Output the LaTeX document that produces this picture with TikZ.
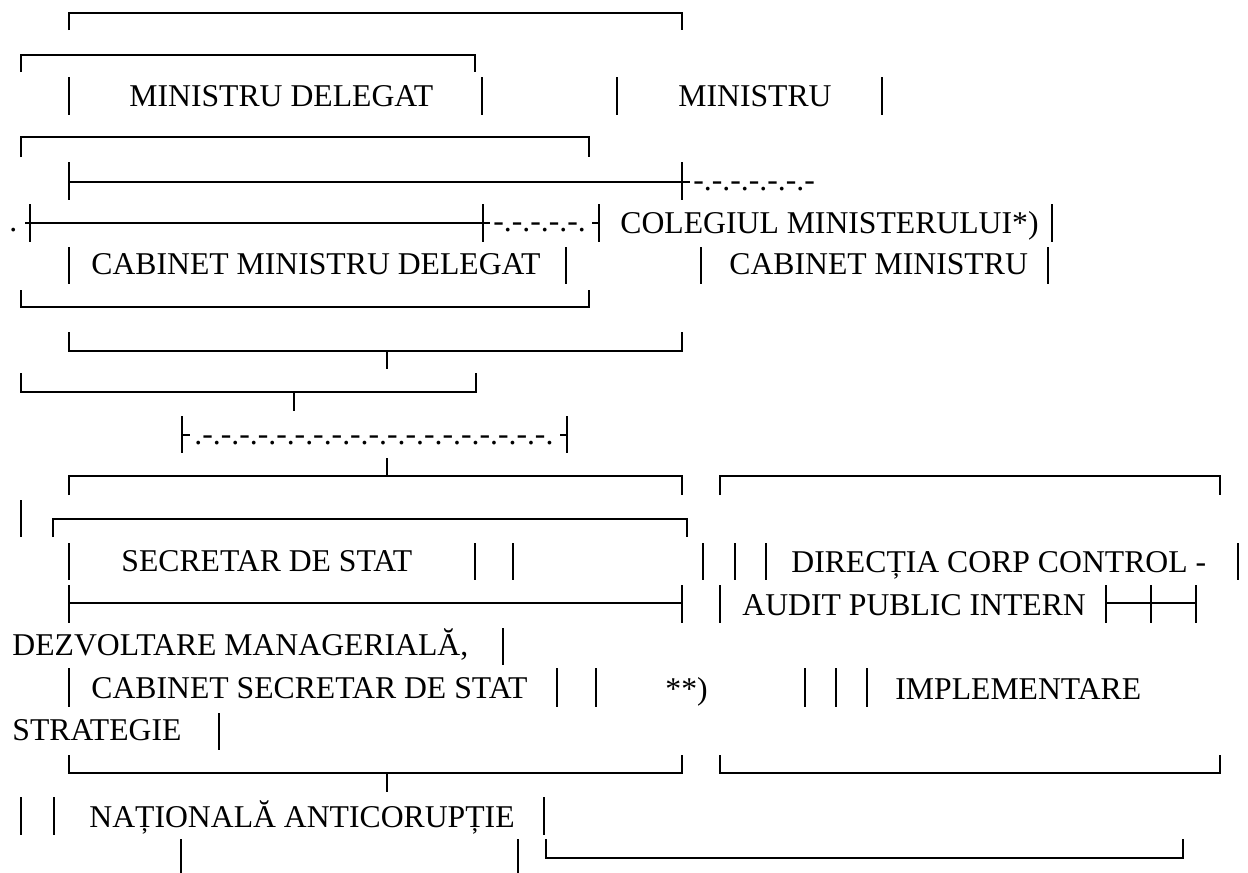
\documentclass[tikz,border=0pt]{standalone}
\usepackage{fontspec}
\setmainfont{Liberation Serif}
\usetikzlibrary{positioning}

\begin{document}
\begin{tikzpicture}[x=0.5pt,y=-0.5pt,
  boxline/.style={line width=1.2pt},
  barline/.style={line width=1pt},
  txt/.style={anchor=base west,inner sep=0pt,font=\fontsize{15.85}{19}\selectfont}]
\useasboundingbox (0,0) rectangle (1248,873);

% ministri
\draw[boxline] (69,30)--(69,13)--(682,13)--(682,30);
\draw[boxline] (21,72)--(21,55)--(475,55)--(475,72);
\node[txt] (minDel) at (129,106) {MINISTRU DELEGAT};
\node[txt] (min) at (678,106) {MINISTRU};
\foreach \x in {69,482,617,882} \draw[barline] (\x,77)--(\x,115);
\draw[boxline] (21,157)--(21,137)--(589,137)--(589,157);

% linii colegiu
\draw[boxline] (69,162)--(69,200);
\draw[boxline] (682,162)--(682,200);
\draw[boxline] (69,182)--(690,182);
\node[txt] (dashA) at (693,190) {-.-.-.-.-.-.-};
\node[txt] (dotE) at (9,231) {.};
\draw[boxline] (25,223)--(490,223);
\foreach \x in {30,483,599} \draw[boxline] (\x,204)--(\x,242);
\draw[boxline] (592,223)--(599,223);
\node[txt] (dashB) at (493,231) {-.-.-.-.-.};
\node[txt] (coleg) at (620,233) {COLEGIUL MINISTERULUI*)};
\draw[barline] (1052,204)--(1052,242);

% cabinete
\node[txt] (cabDel) at (91,274) {CABINET MINISTRU DELEGAT};
\node[txt] (cabMin) at (729,274) {CABINET MINISTRU};
\foreach \x in {69,566,701,1048} \draw[barline] (\x,247)--(\x,284);
\draw[boxline] (21,290)--(21,307)--(589,307)--(589,290);

\draw[boxline] (69,332)--(69,351)--(682,351)--(682,332);
\draw[boxline] (387,351)--(387,369);
\draw[boxline] (21,373)--(21,392)--(476,392)--(476,373);
\draw[boxline] (294,392)--(294,411);

% legatura punctata
\draw[boxline] (182,416)--(182,453);
\draw[boxline] (182,435)--(190,435);
\node[txt] (dashC) at (194,444) {.-.-.-.-.-.-.-.-.-.-.-.-.-.-.-.-.-.-.-.};
\draw[boxline] (567,416)--(567,453);
\draw[boxline] (560,435)--(567,435);

% secretar de stat
\draw[boxline] (387,458)--(387,476);
\draw[boxline] (69,495)--(69,476)--(682,476)--(682,495);
\draw[boxline] (720,495)--(720,476)--(1220,476)--(1220,495);
\draw[barline] (21,500)--(21,537);
\draw[boxline] (53,537)--(53,519)--(687,519)--(687,537);
\node[txt] (secStat) at (121,571) {SECRETAR DE STAT};
\node[txt] (dirCorp) at (791,572) {DIRECȚIA CORP CONTROL -};
\foreach \x in {69,475,513,703,735,766,1238} \draw[barline] (\x,543)--(\x,580);
\foreach \x in {69,682,1106,1151,1196} \draw[boxline] (\x,585)--(\x,623);
\draw[barline] (720,585)--(720,623);
\draw[boxline] (69,603)--(682,603);
\draw[boxline] (1106,603)--(1196,603);
\node[txt] (audit) at (742,615) {AUDIT PUBLIC INTERN};

\node[txt] (dezv) at (12,655) {DEZVOLTARE MANAGERIALĂ,};
\draw[barline] (503,628)--(503,665);
\node[txt] (cabSec) at (91,698) {CABINET SECRETAR DE STAT};
\node[txt] (nota) at (665,699) {**)};
\node[txt] (impl) at (895,699) {IMPLEMENTARE};
\foreach \x in {69,557,596,805,836,867} \draw[barline] (\x,668)--(\x,707);
\node[txt] (strat) at (12,740) {STRATEGIE};
\draw[barline] (219,713)--(219,750);
\draw[boxline] (69,755)--(69,773)--(682,773)--(682,755);
\draw[boxline] (387,773)--(387,792);
\draw[boxline] (720,755)--(720,773)--(1220,773)--(1220,755);

% anticoruptie
\node[txt] (natAnti) at (89,827) {NAȚIONALĂ ANTICORUPȚIE};
\foreach \x in {21,54,544} \draw[barline] (\x,797)--(\x,835);
\foreach \x in {181,518} \draw[barline] (\x,839)--(\x,873);
\draw[boxline] (546,839)--(546,858)--(1183,858)--(1183,839);
\end{tikzpicture}
\end{document}
